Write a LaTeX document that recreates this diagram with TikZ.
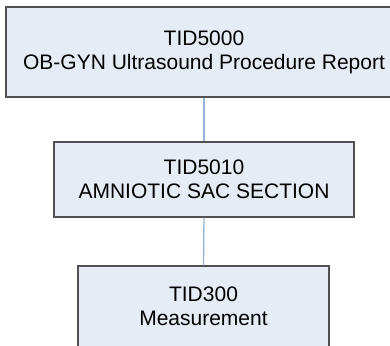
\documentclass[tikz,border=0pt]{standalone}
\usepackage{fontspec}
\setmainfont{Liberation Sans}
\definecolor{boxfill}{HTML}{E6ECF6}
\definecolor{boxline}{HTML}{505050}
\definecolor{linkline}{HTML}{95B3D7}
\begin{document}
\begin{tikzpicture}[x=1pt,y=-1pt,
  tidbox/.style={draw=boxline, fill=boxfill, line width=1.1pt, align=center,
    inner sep=0pt, font=\fontsize{21}{24}\selectfont},
  link/.style={draw=linkline, line width=1.3pt}]
\useasboundingbox (0,0) rectangle (390,345);
\fill[white] (0,0) rectangle (390,345);
\node[tidbox, minimum width=396pt, minimum height=90pt] (a) at (204,52) {TID5000\\OB-GYN Ultrasound Procedure Report};
\node[tidbox, minimum width=300pt, minimum height=75pt] (b) at (204,179.5) {TID5010\\AMNIOTIC SAC SECTION};
\node[tidbox, minimum width=251pt, minimum height=81pt] (c) at (203.5,306.5) {TID300\\Measurement};
\draw[link] (a.south) -- (b.north);
\draw[link] (b.south) -- (c.north);
\end{tikzpicture}
\end{document}
